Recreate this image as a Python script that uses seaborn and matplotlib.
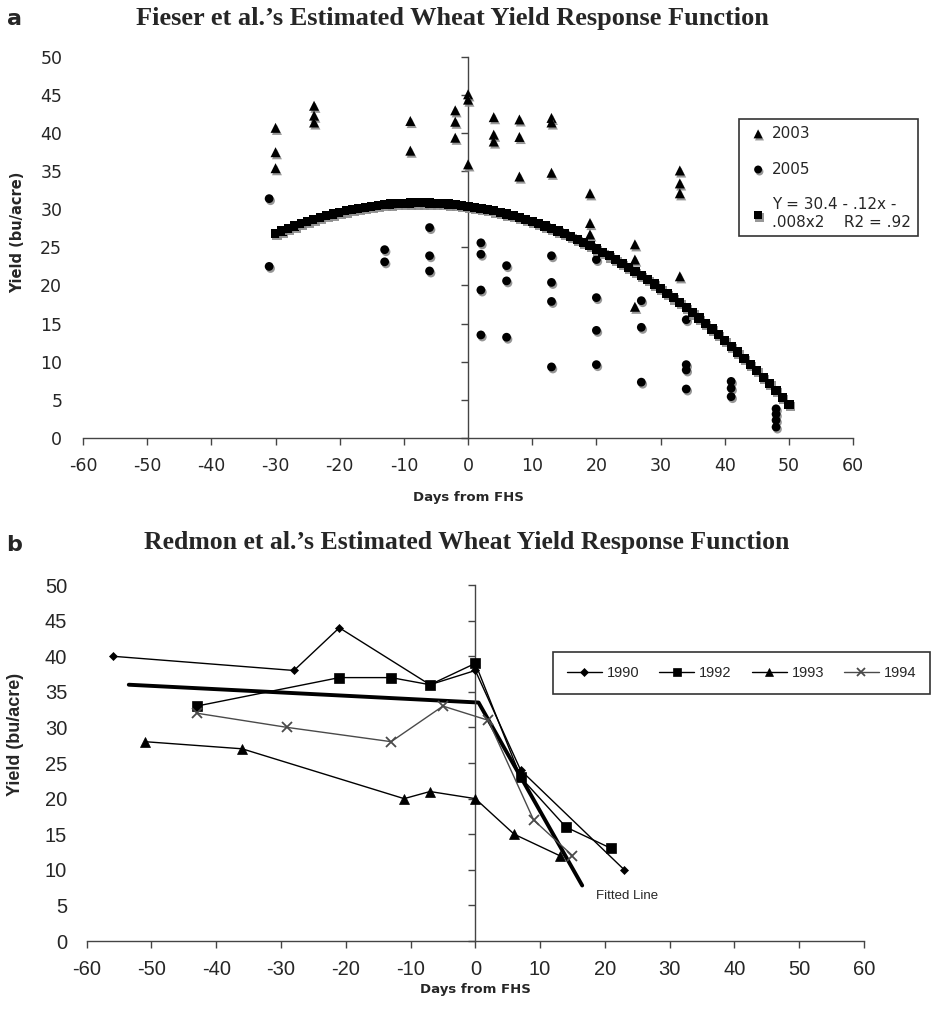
import matplotlib
matplotlib.use("Agg")
import matplotlib.pyplot as plt
import matplotlib.patheffects as pe
import seaborn as sns

# --- panel a: Fieser et al. ---
days_2003 = [-30, -30, -30, -24, -24, -24, -9, -9, -2, -2, -2, 0, 0, 0, 4, 4, 4,
             8, 8, 8, 13, 13, 13, 19, 19, 19, 26, 26, 26, 33, 33, 33, 33]
yield_2003 = [40.7, 37.5, 35.4, 43.6, 42.3, 41.4, 41.6, 37.7, 43.0, 41.5, 39.4,
              45.1, 44.4, 35.9, 42.1, 39.8, 38.9, 41.8, 39.5, 34.3, 42.0, 41.4,
              34.8, 32.1, 28.2, 26.7, 25.4, 23.4, 17.2, 35.1, 33.4, 32.1, 21.2]
days_2005 = [-31, -31, -13, -13, -6, -6, -6, 2, 2, 2, 2, 6, 6, 6, 13, 13, 13, 13,
             20, 20, 20, 20, 27, 27, 27, 34, 34, 34, 34, 41, 41, 41, 48, 48, 48, 48]
yield_2005 = [31.4, 22.5, 24.7, 23.1, 27.6, 23.9, 21.9, 25.6, 24.1, 19.4, 13.5,
              22.6, 20.6, 13.2, 23.9, 20.4, 17.9, 9.3, 23.4, 18.4, 14.1, 9.6,
              18.0, 14.5, 7.3, 15.5, 9.6, 8.9, 6.4, 7.4, 6.5, 5.4, 3.8, 3.1, 2.3, 1.4]
# fitted curve values (Y = 30.4 - .12x - .008x2), one per day from -30 to 50
curve_days = list(range(-30, 51))
curve_yield = [26.8, 27.152, 27.488, 27.808, 28.112, 28.4, 28.672, 28.928, 29.168,
               29.392, 29.6, 29.792, 29.968, 30.128, 30.272, 30.4, 30.512, 30.608,
               30.688, 30.752, 30.8, 30.832, 30.848, 30.848, 30.832, 30.8, 30.752,
               30.688, 30.608, 30.512, 30.4, 30.272, 30.128, 29.968, 29.792, 29.6,
               29.392, 29.168, 28.928, 28.672, 28.4, 28.112, 27.808, 27.488, 27.152,
               26.8, 26.432, 26.048, 25.648, 25.232, 24.8, 24.352, 23.888, 23.408,
               22.912, 22.4, 21.872, 21.328, 20.768, 20.192, 19.6, 18.992, 18.368,
               17.728, 17.072, 16.4, 15.712, 15.008, 14.288, 13.552, 12.8, 12.032,
               11.248, 10.448, 9.632, 8.8, 7.952, 7.088, 6.208, 5.312, 4.4]
curve_label = "Y = 30.4 - .12x -\n.008x2    R2 = .92"

# --- panel b: Redmon et al. ---
days_1990 = [-56, -28, -21, -7, 0, 7, 23]
yield_1990 = [40, 38, 44, 36, 38, 24, 10]
days_1992 = [-43, -21, -13, -7, 0, 7, 14, 21]
yield_1992 = [33, 37, 37, 36, 39, 23, 16, 13]
days_1993 = [-51, -36, -11, -7, 0, 6, 13]
yield_1993 = [28, 27, 20, 21, 20, 15, 12]
days_1994 = [-43, -29, -13, -5, 2, 9, 15]
yield_1994 = [32, 30, 28, 33, 31, 17, 12]
fit_days = [-53.5, 0.5, 16.5]
fit_yield = [36.0, 33.5, 7.8]

x_ticks = list(range(-60, 61, 10))
y_ticks = list(range(0, 51, 5))

sns.set_style("white")
plt.rcParams["font.family"] = ["DejaVu Sans"]

fig = plt.figure(figsize=(9.31, 10.18), dpi=100)
ax1 = fig.add_axes([0.0892, 0.5700, 0.8271, 0.3740])
ax2 = fig.add_axes([0.0931, 0.0756, 0.8349, 0.3497])

shadow = [pe.withSimplePatchShadow(offset=(1, -1.5), shadow_rgbFace="0.55", alpha=0.9)]


def excel_axes(ax, fam, size, pad_y):
    ax.set_xlim(-60, 60)
    ax.set_ylim(0, 50)
    ax.set_xticks(x_ticks)
    ax.set_xticklabels([str(v) for v in x_ticks], family=fam, fontsize=size)
    ax.set_yticks(y_ticks)
    for s in ["top", "right"]:
        ax.spines[s].set_visible(False)
    ax.spines["left"].set_position(("data", 0))
    for s in ["left", "bottom"]:
        ax.spines[s].set_color("#444444")
        ax.spines[s].set_linewidth(1.0)
    ax.tick_params(axis="x", direction="out", length=5, width=1, color="#444444",
                   pad=9, bottom=True)
    ax.tick_params(axis="y", direction="out", length=5, width=1, color="#444444",
                   labelleft=False, left=True)
    sec = ax.secondary_yaxis("left")
    sec.spines["left"].set_visible(False)
    sec.set_yticks(y_ticks)
    sec.set_yticklabels([str(v) for v in y_ticks], family=fam, fontsize=size)
    sec.tick_params(length=0, pad=pad_y)
    return sec


excel_axes(ax1, "DejaVu Sans", 12.5, 15)
excel_axes(ax2, "Liberation Sans", 14.5, 14)

# panel a
sns.scatterplot(x=days_2003, y=yield_2003, marker="^", s=52, color="black",
                edgecolor="none", label="2003", ax=ax1, path_effects=shadow,
                clip_on=False, zorder=3)
sns.scatterplot(x=days_2005, y=yield_2005, marker="o", s=40, color="black",
                edgecolor="none", label="2005", ax=ax1, path_effects=shadow,
                clip_on=False, zorder=3)
sns.scatterplot(x=curve_days, y=curve_yield, marker="s", s=44, color="black",
                edgecolor="none", label=curve_label, ax=ax1, path_effects=shadow,
                clip_on=False, zorder=3)
ax1.set_xlabel("")
ax1.set_ylabel("")
leg1 = ax1.legend(loc="upper left", bbox_to_anchor=(739 / 931, 1 - 119 / 1018),
                  bbox_transform=fig.transFigure, borderaxespad=0, frameon=True,
                  fancybox=False, edgecolor="#333333", framealpha=1,
                  prop={"family": "DejaVu Sans", "size": 11}, handlelength=1.6,
                  handletextpad=0.1, labelspacing=1.35, borderpad=0.45,
                  markerscale=0.9)
leg1.get_frame().set_linewidth(1.2)

# panel b
sns.lineplot(x=fit_days, y=fit_yield, color="black", lw=2.8, ax=ax2, sort=False,
             estimator=None, zorder=2)
series = [
    (days_1990, yield_1990, "1990", "D", 4.5, "black"),
    (days_1992, yield_1992, "1992", "s", 7, "black"),
    (days_1993, yield_1993, "1993", "^", 7.5, "black"),
    (days_1994, yield_1994, "1994", "x", 7, "#4a4a4a"),
]
for dx, dy, lab, mk, ms, col in series:
    sns.lineplot(x=dx, y=dy, color=col, lw=1.0, marker=mk, markersize=ms,
                 markeredgecolor=col, markeredgewidth=1.3 if mk == "x" else 0.5,
                 label=lab, ax=ax2, sort=False, estimator=None, zorder=3,
                 clip_on=False)
ax2.text(18.7, 6.3, "Fitted Line", family="Liberation Sans", fontsize=9.5,
         va="center", ha="left")
ax2.set_xlabel("")
ax2.set_ylabel("")
handles, labels = ax2.get_legend_handles_labels()
leg2 = ax2.legend(handles[-4:], labels[-4:], ncol=4, loc="upper left",
                  bbox_to_anchor=(553 / 931, 1 - 652 / 1018),
                  bbox_transform=fig.transFigure, borderaxespad=0, frameon=True,
                  fancybox=False, edgecolor="#333333", framealpha=1,
                  prop={"family": "Liberation Sans", "size": 10.5}, handlelength=2.4,
                  handletextpad=0.35, columnspacing=1.35, borderpad=0.95,
                  markerscale=0.85)
leg2.get_frame().set_linewidth(1.2)

# titles and labels
fig.text(452 / 931, 1 - 18 / 1018, "Fieser et al.\u2019s Estimated Wheat Yield Response Function",
         family="Liberation Serif", weight="bold", fontsize=19, ha="center", va="center")
fig.text(467 / 931, 1 - 543 / 1018, "Redmon et al.\u2019s Estimated Wheat Yield Response Function",
         family="Liberation Serif", weight="bold", fontsize=18.5, ha="center", va="center")
fig.text(14 / 931, 1 - 19 / 1018, "a", family="DejaVu Sans", weight="bold",
         fontsize=16, ha="center", va="center")
fig.text(14 / 931, 1 - 545 / 1018, "b", family="DejaVu Sans", weight="bold",
         fontsize=16, ha="center", va="center")
fig.text(468 / 931, 1 - 498 / 1018, "Days from FHS", family="DejaVu Sans",
         weight="bold", fontsize=9.5, ha="center", va="center")
fig.text(475 / 931, 1 - 990 / 1018, "Days from FHS", family="DejaVu Sans",
         weight="bold", fontsize=9.5, ha="center", va="center")
fig.text(18 / 931, 1 - 232 / 1018, "Yield (bu/acre)", family="DejaVu Sans",
         weight="bold", fontsize=10.5, rotation=90, ha="center", va="center")
fig.text(16 / 931, 1 - 734 / 1018, "Yield (bu/acre)", family="Liberation Sans",
         weight="bold", fontsize=13, rotation=90, ha="center", va="center")

fig.savefig("out.png", dpi=100, facecolor="white")
